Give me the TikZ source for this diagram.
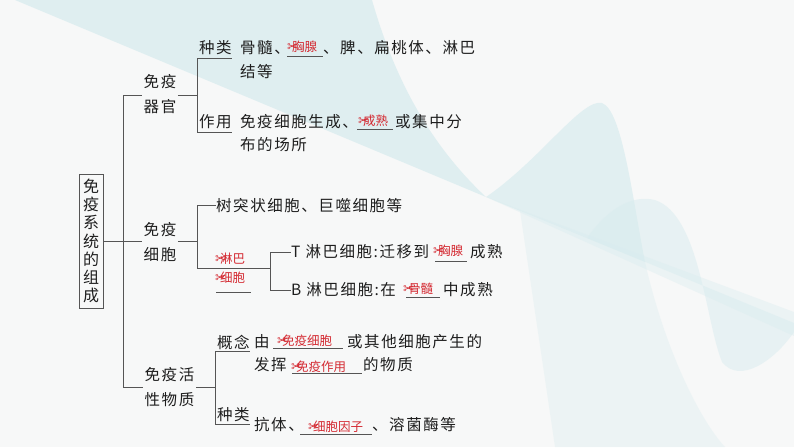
\documentclass[tikz,border=0pt]{standalone}
\usepackage{fontspec}
\newfontfamily\cjk[LetterSpace=10]{Noto Sans CJK SC}
\newfontfamily\plaincjk{Noto Sans CJK SC}
\newfontfamily\symf{DejaVu Sans}
\definecolor{bgc}{HTML}{F7F8F8}
\definecolor{tealbg}{HTML}{D9ECEF}
\definecolor{anscol}{HTML}{D42A32}
\definecolor{lncol}{HTML}{555555}
\definecolor{txtcol}{HTML}{1E1E1E}
\newcommand{\blankans}[1]{{\symf\fontsize{13.5}{14}\selectfont ✂}\kern-6.5pt#1}
\tikzset{
  txtnode/.style={anchor=west, inner sep=0pt, text=txtcol, font=\cjk\fontsize{15.5}{18}\selectfont},
  lbl/.style={inner ysep=0pt, inner xsep=1.5pt, text=txtcol, font=\cjk\fontsize{15.5}{25}\selectfont, align=center},
  anstext/.style={anchor=west, inner sep=0pt, text=anscol, font=\plaincjk\fontsize{12.5}{14}\selectfont},
  conn/.style={draw=lncol, line width=0.8pt},
  uline/.style={draw=lncol, line width=0.8pt},
}
\begin{document}
\begin{tikzpicture}[x=1pt,y=-1pt]
\useasboundingbox (0,0) rectangle (794,447);
% background
\fill[bgc] (0,0) rectangle (794,447);
\fill[tealbg, opacity=0.8] (15,0) -- (372,0) .. controls (392,70) and (425,140) .. (486,197) -- cycle;
\fill[tealbg, opacity=0.7] (486,197) .. controls (540,160) and (582,98) .. (602,103) .. controls (622,110) and (632,195) .. (645,262) -- cycle;
\fill[tealbg, opacity=0.35] (520,211) -- (645,262) .. controls (665,350) and (700,420) .. (725,447) -- (555,447) -- cycle;
\fill[tealbg, opacity=0.5] (587,238) .. controls (610,205) and (635,195) .. (655,200) .. controls (700,215) and (705,320) .. (722,362) .. controls (740,385) and (775,360) .. (794,332) -- (794,323) -- cycle;
\fill[tealbg, opacity=0.4] (486,197) -- (794,312) -- (794,336) -- cycle;

% title box
\node[draw=lncol, line width=0.8pt, minimum width=24pt, minimum height=134pt, inner sep=0pt, align=center, font=\plaincjk\fontsize{16}{18.3}\selectfont, text=txtcol] (title) at (91,241) {免\\疫\\系\\统\\的\\组\\成};

% level 1 nodes
\node[lbl] (organ) at (160,94.5) {免疫\\器官};
\node[lbl] (cell) at (160,242.5) {免疫\\细胞};
\node[lbl] (active) at (169.5,387.5) {免疫活\\性物质};

\coordinate (s1t) at (123,95);
\coordinate (s1b) at (123,387);
\draw[conn] (s1t) -- (s1b);
\draw[conn] (s1t) -- (s1t -| organ.west);
\draw[conn] (s1b) -- (s1b -| active.west);
\draw[conn] (title.east) -- (title.east -| cell.west);

% ---------- organ ----------
\coordinate (s2m) at (197,95);
\coordinate (s2t) at (197,58);
\coordinate (s2b) at (197,132);
\draw[conn] (organ.east |- s2m) -- (s2m);
\draw[conn] (s2t) -- (s2b);
\node[txtnode] (kind1) at (199,48) {种类};
\node[txtnode] (use1) at (199,122) {作用};
\draw[conn] (s2t) -- (s2t -| kind1.east);
\draw[conn] (s2b) -- (s2b -| use1.east);

\node[txtnode] (r1a) at (240,48) {骨髓、};
\node[anstext] (a1) at (287,47) {\blankans{胸腺}};
\draw[uline] (287,56) -- (323,56);
\node[txtnode] (r1b) at (323,48) {、脾、扁桃体、淋巴};
\node[txtnode] (r1c) at (240,72) {结等};

\node[txtnode] (r2a) at (240,122) {免疫细胞生成、};
\node[anstext] (a2) at (358,121) {\blankans{成熟}};
\draw[uline] (357,129) -- (393,129);
\node[txtnode] (r2b) at (395,122) {或集中分};
\node[txtnode] (r2c) at (240,145) {布的场所};

% ---------- cell ----------
\coordinate (s3m) at (197,241);
\coordinate (s3t) at (197,205);
\coordinate (s3b) at (197,268);
\draw[conn] (cell.east |- s3m) -- (s3m);
\draw[conn] (s3t) -- (s3b);
\node[txtnode] (dc) at (216,206) {树突状细胞、巨噬细胞等};
\draw[conn] (s3t) -- (s3t -| dc.west);

\node[anstext] (a3) at (215,259) {\blankans{淋巴}};
\node[anstext] (a4) at (215,278) {\blankans{细胞}};
\draw[uline] (216,292) -- (251,292);
\coordinate (s4m) at (270,268);
\coordinate (s4t) at (270,252);
\coordinate (s4b) at (270,290);
\draw[conn] (s3b) -- (s4m);
\draw[conn] (s4t) -- (s4b);

\node[txtnode] (tc) at (291,252) {T 淋巴细胞:迁移到};
\draw[conn] (s4t) -- (s4t -| tc.west);
\node[anstext] (a5) at (433,251) {\blankans{胸腺}};
\draw[uline] (435,261) -- (467,261);
\node[txtnode] (tc2) at (470,252) {成熟};

\node[txtnode] (bc) at (291,290) {B 淋巴细胞:在};
\draw[conn] (s4b) -- (s4b -| bc.west);
\node[anstext] (a6) at (403,289) {\blankans{骨髓}};
\draw[uline] (406,297) -- (440,297);
\node[txtnode] (bc2) at (443,290) {中成熟};

% ---------- active ----------
\coordinate (s5m) at (215,387);
\coordinate (s5t) at (215,351);
\coordinate (s5b) at (215,424);
\draw[conn] (active.east |- s5m) -- (s5m);
\draw[conn] (s5t) -- (s5b);
\node[txtnode] (concept) at (217,342) {概念};
\node[txtnode] (kind2) at (217,415) {种类};
\draw[conn] (s5t) -- (s5t -| concept.east);
\draw[conn] (s5b) -- (s5b -| kind2.east);

\node[txtnode] (c1a) at (254,342) {由};
\node[anstext] (a7) at (277,341) {\blankans{免疫细胞}};
\draw[uline] (273,348) -- (343,348);
\node[txtnode] (c1b) at (347,342) {或其他细胞产生的};
\node[txtnode] (c2a) at (254,365) {发挥};
\node[anstext] (a8) at (291,367) {\blankans{免疫作用}};
\draw[uline] (292,373) -- (362,373);
\node[txtnode] (c2b) at (363,365) {的物质};

\node[txtnode] (k2a) at (254,425) {抗体、};
\node[anstext] (a9) at (308,427) {\blankans{细胞因子}};
\draw[uline] (300,434) -- (372,434);
\node[txtnode] (k2b) at (372,425) {、溶菌酶等};
\end{tikzpicture}
\end{document}
